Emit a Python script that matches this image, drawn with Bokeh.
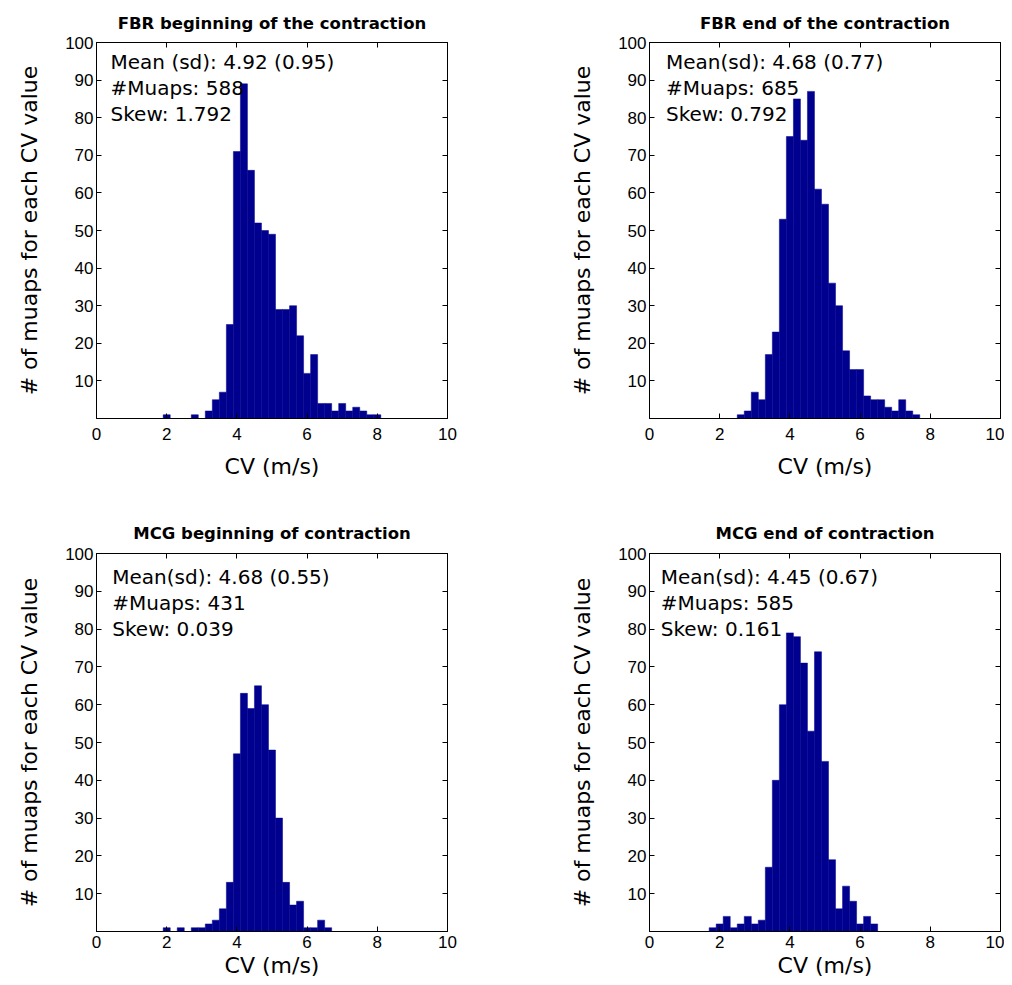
from bokeh.plotting import figure
from bokeh.models import Range1d, FixedTicker, LinearAxis, Label, ColumnDataSource
from bokeh.layouts import column, row
from bokeh.embed import file_html
from bokeh.resources import INLINE

# ---- data ----
bin_centers = [1.8, 2.0, 2.2, 2.4, 2.6, 2.8, 3.0, 3.2, 3.4, 3.6, 3.8, 4.0,
               4.2, 4.4, 4.6, 4.8, 5.0, 5.2, 5.4, 5.6, 5.8, 6.0, 6.2, 6.4,
               6.6, 6.8, 7.0, 7.2, 7.4, 7.6, 7.8, 8.0]
bin_width = 0.2

fbr_begin = [0, 1, 0, 0, 0, 1, 0, 2, 5, 7, 25, 71, 89, 66, 52, 50, 49, 29, 29, 30,
             22, 12, 17, 4, 4, 2, 4, 2, 3, 2, 1, 1]
fbr_end = [0, 0, 0, 0, 1, 2, 7, 5, 17, 23, 53, 75, 85, 74, 87, 61, 57, 36, 30, 18,
           13, 13, 6, 5, 5, 3, 2, 5, 2, 1, 0, 0]
mcg_begin = [0, 1, 0, 1, 0, 1, 1, 2, 3, 6, 13, 47, 63, 59, 65, 60, 48, 30, 13, 7,
             8, 1, 1, 3, 1, 0, 0, 0, 0, 0, 0, 0]
mcg_end = [1, 2, 4, 1, 2, 4, 2, 3, 17, 40, 60, 79, 78, 71, 53, 74, 45, 19, 6, 12,
           8, 2, 4, 2, 0, 0, 0, 0, 0, 0, 0, 0]

titles = ["FBR beginning of the contraction", "FBR end of the contraction",
          "MCG beginning of contraction", "MCG end of contraction"]
stats = [
    ["Mean (sd): 4.92 (0.95)", "#Muaps: 588", "Skew: 1.792"],
    ["Mean(sd): 4.68 (0.77)", "#Muaps: 685", "Skew: 0.792"],
    ["Mean(sd): 4.68 (0.55)", "#Muaps: 431", "Skew: 0.039"],
    ["Mean(sd): 4.45 (0.67)", "#Muaps: 585", "Skew: 0.161"],
]
x_ticks = [0, 2, 4, 6, 8, 10]
y_ticks = [10, 20, 30, 40, 50, 60, 70, 80, 90, 100]
x_label = "CV (m/s)"
y_label = "# of muaps for each CV value"

BAR = "#00008F"


def panel(title, counts, lines, text_x, text_y, width, height, bl, br, bt, bb,
          title_standoff, xlab_standoff, xaxis_standoff):
    p = figure(width=width, height=height, x_range=Range1d(0, 10), y_range=Range1d(0, 100),
               output_backend="svg", toolbar_location=None, title=title,
               min_border_left=bl, min_border_right=br, min_border_top=bt, min_border_bottom=bb)
    p.xgrid.visible = False
    p.ygrid.visible = False
    p.outline_line_color = "black"
    p.outline_line_width = 1
    p.background_fill_color = "white"
    p.border_fill_color = "white"

    p.title.text_font = "DejaVu Sans"
    p.title.text_font_size = "16.5px"
    p.title.text_font_style = "bold"
    p.title.align = "center"
    p.title.text_color = "black"
    p.title.standoff = title_standoff

    keep = [i for i, c in enumerate(counts) if c > 0]
    src = ColumnDataSource(dict(
        left=[bin_centers[i] - bin_width / 2 for i in keep],
        right=[bin_centers[i] + bin_width / 2 for i in keep],
        top=[counts[i] for i in keep],
    ))
    p.quad(left="left", right="right", top="top", bottom=0, source=src,
           fill_color=BAR, line_color=BAR, line_width=0.5)

    for ax, ticks in ((p.xaxis[0], x_ticks), (p.yaxis[0], y_ticks)):
        ax.ticker = FixedTicker(ticks=ticks)
        ax.major_tick_in = 5
        ax.major_tick_out = 0
        ax.minor_tick_in = 0
        ax.minor_tick_out = 0
        ax.axis_line_color = "black"
        ax.major_tick_line_color = "black"
        ax.major_label_text_font = "Liberation Sans"
        ax.major_label_text_font_size = "17px"
        ax.major_label_text_color = "black"
        ax.axis_label_text_font = "DejaVu Sans"
        ax.axis_label_text_font_size = "22px"
        ax.axis_label_text_font_style = "normal"
        ax.axis_label_text_color = "black"
    p.xaxis.axis_label = x_label
    p.yaxis.axis_label = y_label
    p.xaxis.major_label_standoff = xlab_standoff
    p.yaxis.major_label_standoff = 3
    p.xaxis.axis_label_standoff = xaxis_standoff
    p.yaxis.axis_label_standoff = 20

    for loc, ticks in (("above", x_ticks), ("right", y_ticks)):
        ax = LinearAxis(ticker=FixedTicker(ticks=ticks),
                        major_label_overrides={t: "" for t in ticks},
                        major_label_text_alpha=0, major_label_text_font_size="1px",
                        major_label_standoff=0,
                        major_tick_in=5, major_tick_out=0, minor_tick_in=0, minor_tick_out=0,
                        axis_line_color="black", major_tick_line_color="black")
        p.add_layout(ax, loc)

    for k, t in enumerate(lines):
        p.add_layout(Label(x=text_x, y=text_y - 6.9 * k, text=t, text_font="DejaVu Sans",
                           text_font_size="20px", text_color="black", text_baseline="middle"))
    return p


p1 = panel(titles[0], fbr_begin, stats[0], 0.4, 94.7, 507, 488, 96, 60, 42, 70, 20, 9, 11)
p2 = panel(titles[1], fbr_end, stats[1], 0.47, 94.7, 497, 488, 142, 4, 42, 70, 20, 9, 11)
p3 = panel(titles[2], mcg_begin, stats[2], 0.45, 93.7, 507, 495, 96, 60, 65, 52, 22, 4, 2)
p4 = panel(titles[3], mcg_end, stats[3], 0.32, 93.7, 497, 495, 142, 4, 65, 52, 22, 4, 2)

layout = column(row(p1, p2), row(p3, p4))
open("out.html", "w").write(file_html(layout, INLINE))
